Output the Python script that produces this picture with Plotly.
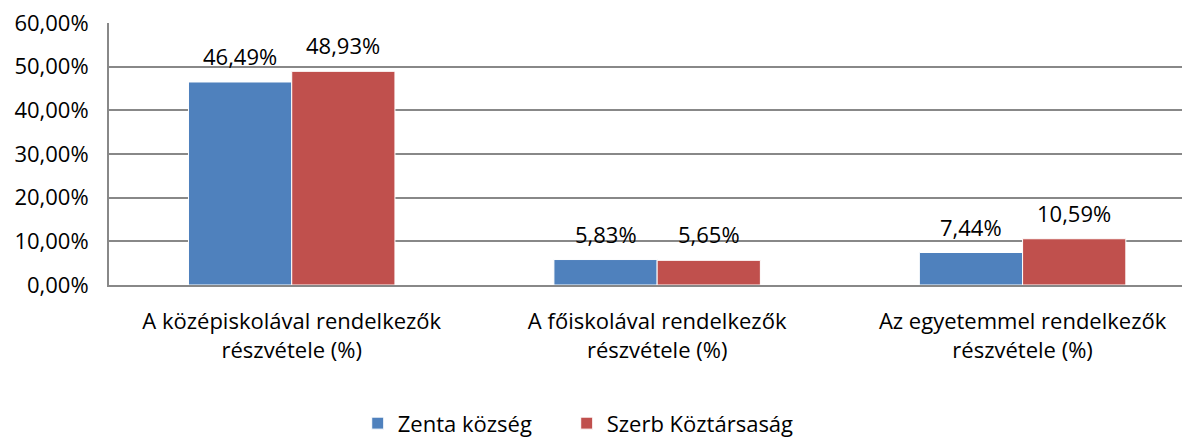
import plotly.graph_objects as go

categories = ["A középiskolával rendelkezők<br>részvétele (%)",
              "A főiskolával rendelkezők<br>részvétele (%)",
              "Az egyetemmel rendelkezők<br>részvétele (%)"]
zenta = [0.4649, 0.0583, 0.0744]
szerb = [0.4893, 0.0565, 0.1059]
series_names = ["Zenta község", "Szerb Köztársaság"]
y_ticks = [0, 0.1, 0.2, 0.3, 0.4, 0.5, 0.6]

font = "Open Sans, Calibri, Carlito, sans-serif"
fsize = 22

fig = go.Figure()
for name, vals, col, shift, leg in [(series_names[0], zenta, "#4F81BD", -51.5, "legend"),
                                    (series_names[1], szerb, "#C0504D", 51.5, "legend2")]:
    fig.add_trace(go.Bar(
        x=categories, y=vals, name=name, legend=leg,
        marker=dict(color=col, line=dict(color="white", width=1)),
    ))
    # data labels placed a bit higher than plotly's default outside text
    for c, v in zip(categories, vals):
        fig.add_annotation(x=c, y=v, text=f"{v * 100:.2f}%".replace(".", ","),
                           xshift=shift, yshift=9, yanchor="bottom",
                           showarrow=False,
                           font=dict(size=fsize, color="#000000", family=font))

fig.update_xaxes(
    range=[-0.5, 2.48],
    showline=True, linecolor="#888888", linewidth=2,
    showgrid=False, ticks="outside", tickcolor="rgba(0,0,0,0)", ticklen=16,
    tickfont=dict(size=fsize, color="#000000", family=font),
)
fig.update_yaxes(
    range=[0, 0.6], tickvals=y_ticks, tickformat=".2%",
    showline=True, linecolor="#888888", linewidth=2,
    showgrid=True, gridcolor="#888888", gridwidth=2,
    zeroline=False, ticklabeloverflow="allow",
    tickfont=dict(size=fsize, color="#000000", family=font),
    ticks="outside", tickcolor="rgba(0,0,0,0)", ticklen=14,
)

leg_style = dict(orientation="h", xanchor="left", y=-0.528, yanchor="middle",
                 font=dict(size=fsize, color="#000000", family=font), itemwidth=30)

fig.update_layout(
    width=1190, height=437,
    barmode="group", bargap=0.435, bargroupgap=0,
    separators=", ",
    plot_bgcolor="white", paper_bgcolor="white",
    margin=dict(l=101, r=0, t=15, b=157),
    showlegend=True,
    legend=dict(x=0.2284, **leg_style),
    legend2=dict(x=0.4203, **leg_style),
)

fig.write_html("out.html")
